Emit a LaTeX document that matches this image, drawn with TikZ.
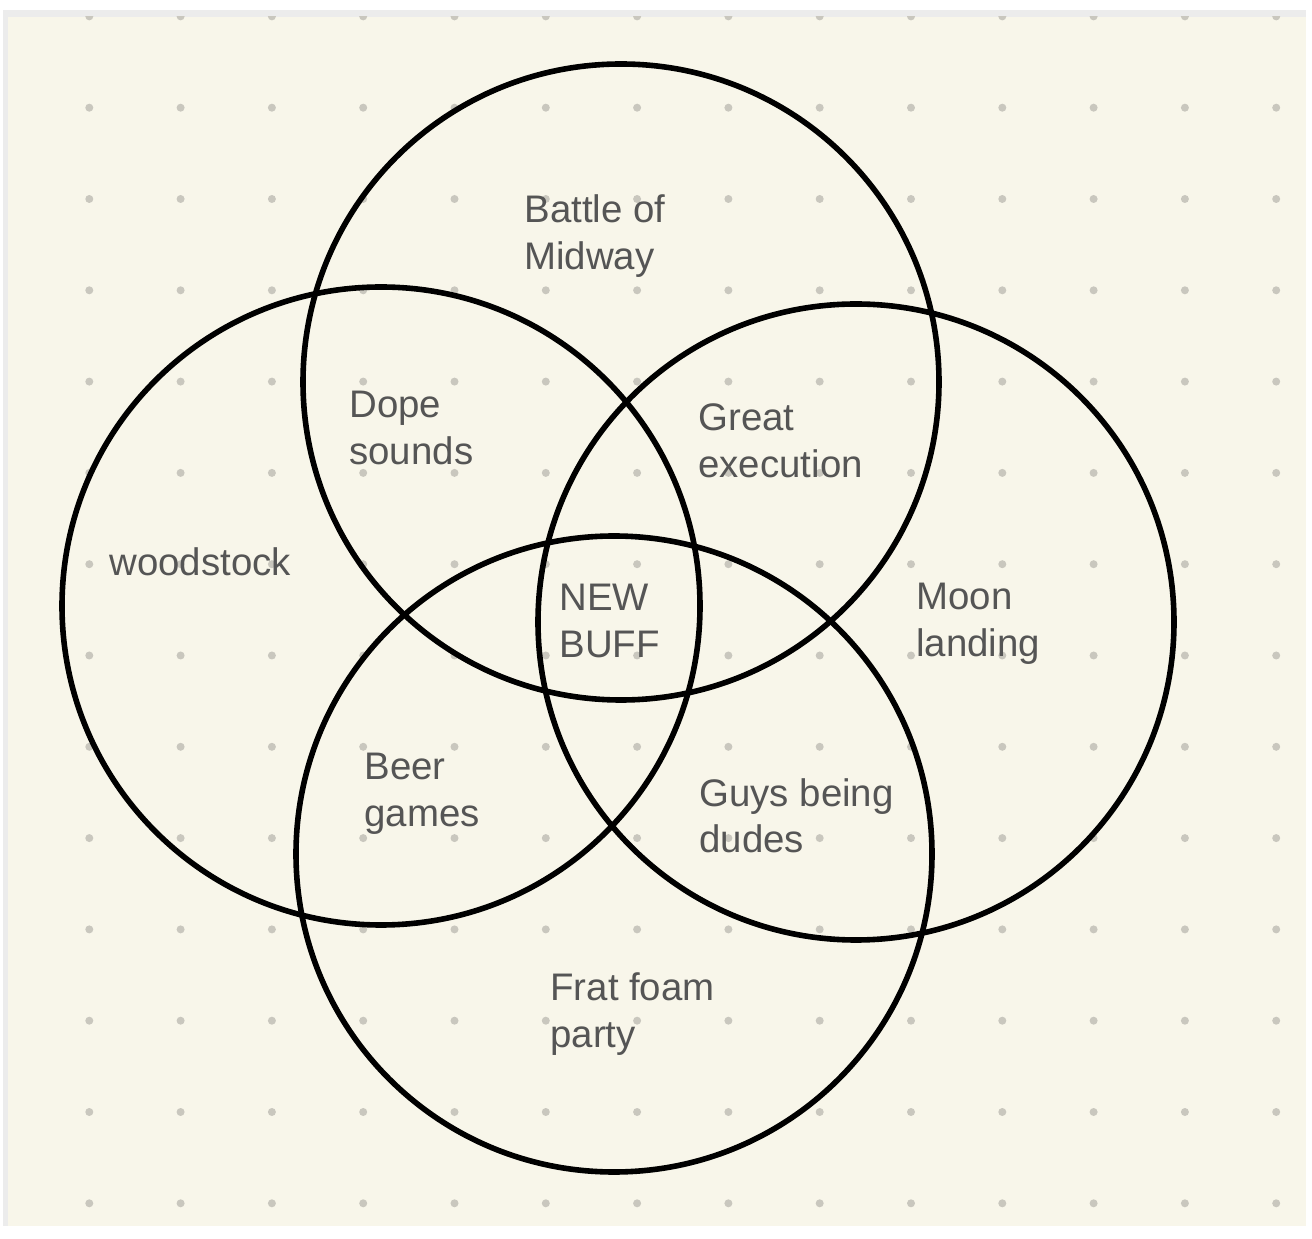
\documentclass[tikz,border=0pt]{standalone}
\usepackage{fontspec}
\setmainfont{Liberation Sans}
\usetikzlibrary{math}
\definecolor{paper}{RGB}{248,246,234}
\definecolor{edgegray}{RGB}{236,236,236}
\definecolor{dotgray}{RGB}{201,199,190}
\definecolor{labelgray}{RGB}{85,85,85}

\begin{document}
\begin{tikzpicture}[x=0.5pt,y=0.5pt,
  ring/.style={line width=2.8pt},
  tag/.style={anchor=base west,inner sep=0,align=left,text=labelgray,
    font=\fontsize{19.2}{23.5}\selectfont}]
\tikzmath{
\W=1312;
\H=1238;
\r=318;
\gap=91.3;
}

\fill[white] (0,0) rectangle (\W,\H);
\fill[edgegray] (3,12) rectangle (1306,1228);
\fill[paper] (8,12) rectangle (1306,1221);

\begin{scope}
 \clip (8,12) rectangle (1306,1221);
 \foreach \i in {0,...,13}
  \foreach \j in {0,...,13}
   \fill[dotgray] ({89.3+\gap*\i},{\H-16.4-\gap*\j}) circle(4);
\end{scope}

\coordinate (top) at (621,856);
\coordinate (left) at (381,632);
\coordinate (right) at (856,616);
\coordinate (bottom) at (614,384);

\draw[ring] (top) circle(\r);
\draw[ring] (left) circle(\r+1);
\draw[ring] (right) circle(\r);
\draw[ring] (bottom) circle(\r);

\node[tag] (battle) at (524,968) {Battle of\\Midway};
\node[tag] (dope) at (349,773) {Dope\\sounds};
\node[tag] (great) at (698,760) {Great\\execution};
\node[tag] (woodstock) at (109,662) {woodstock};
\node[tag] (newbuff) at (559,580) {NEW\\BUFF};
\node[tag] (moon) at (916,581) {Moon\\landing};
\node[tag] (beer) at (364,411) {Beer\\games};
\node[tag] (guys) at (699,385) {Guys being\\dudes};
\node[tag] (frat) at (550,191) {Frat foam\\party};
\end{tikzpicture}
\end{document}
